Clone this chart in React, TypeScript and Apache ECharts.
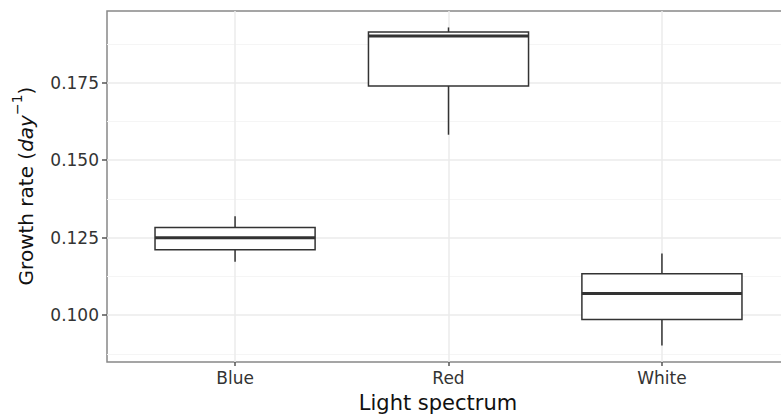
import React, { useEffect, useRef } from "react";
import * as echarts from "echarts";

const categories = ["Blue", "Red", "White"];
const whiskerLow = [0.1172, 0.1582, 0.0902];
const q1 = [0.1211, 0.1739, 0.0986];
const median = [0.125, 0.19, 0.107];
const q3 = [0.1283, 0.1913, 0.1134];
const whiskerHigh = [0.1319, 0.1928, 0.1199];
const yTicks = [0.1, 0.125, 0.15, 0.175];
const yMinor = [0.0875, 0.1125, 0.1375, 0.1625, 0.1875];
const xTicks = [1, 2, 3];

const Y_MIN = 0.0849;
const Y_MAX = 0.1981;
const STROKE = "#333333";
const FONT = "DejaVu Sans";

export default function App() {
  const ref = useRef<HTMLDivElement>(null);
  useEffect(() => {
    if (!ref.current) return;
    const chart = echarts.init(ref.current, null, { renderer: "svg" });
    const data = categories.map((c, i) => [
      i + 1,
      whiskerLow[i],
      q1[i],
      median[i],
      q3[i],
      whiskerHigh[i],
    ]);
    chart.setOption({
      animation: false,
      backgroundColor: "#ffffff",
      grid: {
        left: 107,
        right: 10,
        top: 11,
        bottom: 56,
        show: true,
        borderColor: "#888888",
        borderWidth: 1.5,
        backgroundColor: "transparent",
      },
      xAxis: {
        type: "value",
        min: 0.4,
        max: 3.6,
        axisLine: { show: false },
        axisTick: {
          show: true,
          customValues: xTicks,
          length: 4,
          lineStyle: { color: "#555555", width: 1.5 },
        },
        axisLabel: {
          customValues: xTicks,
          formatter: (v: number) => categories[Math.round(v) - 1] ?? "",
          fontFamily: FONT,
          fontSize: 17,
          color: "#333333",
          margin: 7,
        },
        splitLine: { show: true, lineStyle: { color: "#ebebeb", width: 1.5 } },
      },
      yAxis: [
        {
          type: "value",
          min: Y_MIN,
          max: Y_MAX,
          axisLine: { show: false },
          axisTick: {
            show: true,
            customValues: yTicks,
            length: 5,
            lineStyle: { color: "#555555", width: 1.5 },
          },
          axisLabel: {
            customValues: yTicks,
            formatter: (v: number) => v.toFixed(3),
            fontFamily: FONT,
            fontSize: 17,
            color: "#333333",
            margin: 8,
          },
          splitLine: { show: true, lineStyle: { color: "#ebebeb", width: 1.5 } },
        },
        {
          type: "value",
          min: Y_MIN,
          max: Y_MAX,
          position: "left",
          axisLine: { show: false },
          axisTick: { show: false, customValues: yMinor },
          axisLabel: { show: false, customValues: yMinor },
          splitLine: { show: true, lineStyle: { color: "#f5f5f5", width: 1.2 } },
        },
      ],
      series: [
        {
          type: "custom",
          xAxisIndex: 0,
          yAxisIndex: 0,
          clip: false,
          data,
          encode: { x: 0, y: [1, 2, 3, 4, 5] },
          renderItem: (params: any, api: any) => {
            const x = api.value(0);
            const lo = api.coord([x, api.value(1)]);
            const p1 = api.coord([x, api.value(2)]);
            const pm = api.coord([x, api.value(3)]);
            const p3 = api.coord([x, api.value(4)]);
            const hi = api.coord([x, api.value(5)]);
            const half = api.size([0.75, 0])[0] / 2;
            const cx = lo[0];
            return {
              type: "group",
              children: [
                {
                  type: "line",
                  shape: { x1: cx, y1: hi[1], x2: cx, y2: p3[1] },
                  style: { stroke: STROKE, lineWidth: 1.5 },
                },
                {
                  type: "line",
                  shape: { x1: cx, y1: p1[1], x2: cx, y2: lo[1] },
                  style: { stroke: STROKE, lineWidth: 1.5 },
                },
                {
                  type: "rect",
                  shape: {
                    x: cx - half,
                    y: p3[1],
                    width: 2 * half,
                    height: p1[1] - p3[1],
                  },
                  style: { fill: "#ffffff", stroke: STROKE, lineWidth: 1.5 },
                },
                {
                  type: "line",
                  shape: { x1: cx - half, y1: pm[1], x2: cx + half, y2: pm[1] },
                  style: { stroke: STROKE, lineWidth: 3 },
                },
              ],
            };
          },
        },
      ],
      graphic: [
        {
          type: "text",
          x: 438,
          y: 403,
          style: {
            text: "Light spectrum",
            font: `21px "${FONT}"`,
            fill: "#111111",
            align: "center",
            verticalAlign: "middle",
          },
        },
        {
          type: "text",
          x: 23,
          y: 186,
          rotation: Math.PI / 2,
          style: {
            text: "{a|Growth rate (}{i|day}{s|−1}{a|)}",
            align: "center",
            verticalAlign: "middle",
            fill: "#111111",
            rich: {
              a: { fontFamily: FONT, fontSize: 20, lineHeight: 26, fill: "#111111", verticalAlign: "bottom" },
              i: { fontFamily: FONT, fontSize: 20, fontStyle: "italic", lineHeight: 26, fill: "#111111", verticalAlign: "bottom" },
              s: { fontFamily: FONT, fontSize: 14, lineHeight: 14, fill: "#111111", verticalAlign: "top" },
            },
          },
        },
      ],
    });
    return () => chart.dispose();
  }, []);
  return (
    <div
      style={{
        position: "absolute",
        left: 0,
        top: 0,
        width: 781,
        height: 418,
        overflow: "hidden",
      }}
    >
      <div ref={ref} style={{ width: 800, height: 418 }} />
    </div>
  );
}
